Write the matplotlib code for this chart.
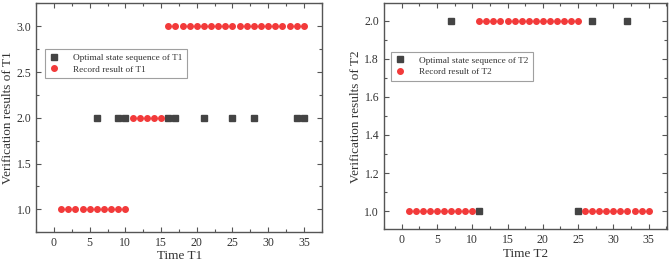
import numpy as np
import matplotlib
matplotlib.use("Agg")
import matplotlib.pyplot as plt
from matplotlib.ticker import MultipleLocator

plt.rcParams['font.family'] = ['Liberation Serif', 'DejaVu Serif']

time = np.arange(1, 36)

# T1 data
opt_t1 = [1, 1, 1, 1, 1, 2, 1, 1, 2, 2,
          2, 2, 2, 2, 2, 2, 2, 3, 3, 3,
          2, 3, 3, 3, 2, 3, 3, 2, 3, 3,
          3, 3, 3, 2, 2]
rec_t1 = [1, 1, 1, 1, 1, 1, 1, 1, 1, 1,
          2, 2, 2, 2, 2, 3, 3, 3, 3, 3,
          3, 3, 3, 3, 3, 3, 3, 3, 3, 3,
          3, 3, 3, 3, 3]

# T2 data
opt_t2 = [1, 1, 1, 1, 1, 1, 2, 1, 1, 1,
          1, 2, 2, 2, 2, 2, 2, 2, 2, 2,
          2, 2, 2, 2, 1, 1, 2, 1, 1, 1,
          1, 2, 1, 1, 1]
rec_t2 = [1, 1, 1, 1, 1, 1, 1, 1, 1, 1,
          2, 2, 2, 2, 2, 2, 2, 2, 2, 2,
          2, 2, 2, 2, 2, 1, 1, 1, 1, 1,
          1, 1, 1, 1, 1]

axis_col = '#555555'
text_col = '#333333'
sq_col = '#444444'
red_col = '#f23a3a'

fig = plt.figure(figsize=(6.69, 2.63), dpi=100)
ax1 = fig.add_axes([0.054, 0.117, 0.428, 0.870])
ax2 = fig.add_axes([0.574, 0.128, 0.423, 0.859])

def style(ax, name, opt, rec, ylim, ymaj, ymin):
    opt = np.array(opt, dtype=float)
    rec = np.array(rec, dtype=float)
    # squares hidden under red circles where both agree
    opt_vis = np.where(opt == rec, np.nan, opt)
    ax.plot(time, opt_vis, 's', color=sq_col, ms=3.7, ls='none',
            label='Optimal state sequence of ' + name)
    ax.plot(time, rec, 'o', color=red_col, ms=4.0, ls='none',
            label='Record result of ' + name)
    ax.set_xlim(-2.5, 37.6)
    ax.set_ylim(*ylim)
    ax.xaxis.set_major_locator(MultipleLocator(5))
    ax.xaxis.set_minor_locator(MultipleLocator(2.5))
    ax.yaxis.set_major_locator(MultipleLocator(ymaj))
    ax.yaxis.set_minor_locator(MultipleLocator(ymin))
    ax.yaxis.set_major_formatter(matplotlib.ticker.FormatStrFormatter('%.1f'))
    ax.tick_params(which='both', direction='in', top=True, right=True,
                   color=axis_col, labelcolor=text_col, labelsize=8.5)
    ax.tick_params(which='major', length=3.5, width=0.8)
    ax.tick_params(which='minor', length=2, width=0.8)
    for sp in ax.spines.values():
        sp.set_color(axis_col)
        sp.set_linewidth(1.0)
    ax.set_xlabel('Time ' + name, fontsize=9.5, color=text_col, labelpad=1)
    ax.set_ylabel('Verification results of ' + name, fontsize=9.5,
                  color=text_col, labelpad=2)
    return ax

style(ax1, 'T1', opt_t1, rec_t1, (0.75, 3.25), 0.5, 0.25)
style(ax2, 'T2', opt_t2, rec_t2, (0.905, 2.09), 0.2, 0.1)

leg_kw = dict(fontsize=6.7, frameon=True, fancybox=False, edgecolor='#888888',
              handletextpad=1.6, borderpad=0.45, labelspacing=0.35,
              handlelength=1.0, borderaxespad=0, markerscale=1.0)
l1 = ax1.legend(loc='upper left', bbox_to_anchor=(0.03, 0.80), **leg_kw)
l2 = ax2.legend(loc='upper left', bbox_to_anchor=(0.025, 0.785), **leg_kw)
for lg in (l1, l2):
    lg.get_frame().set_linewidth(0.8)
    for t in lg.get_texts():
        t.set_color(text_col)

fig.savefig('out.png', dpi=100)
